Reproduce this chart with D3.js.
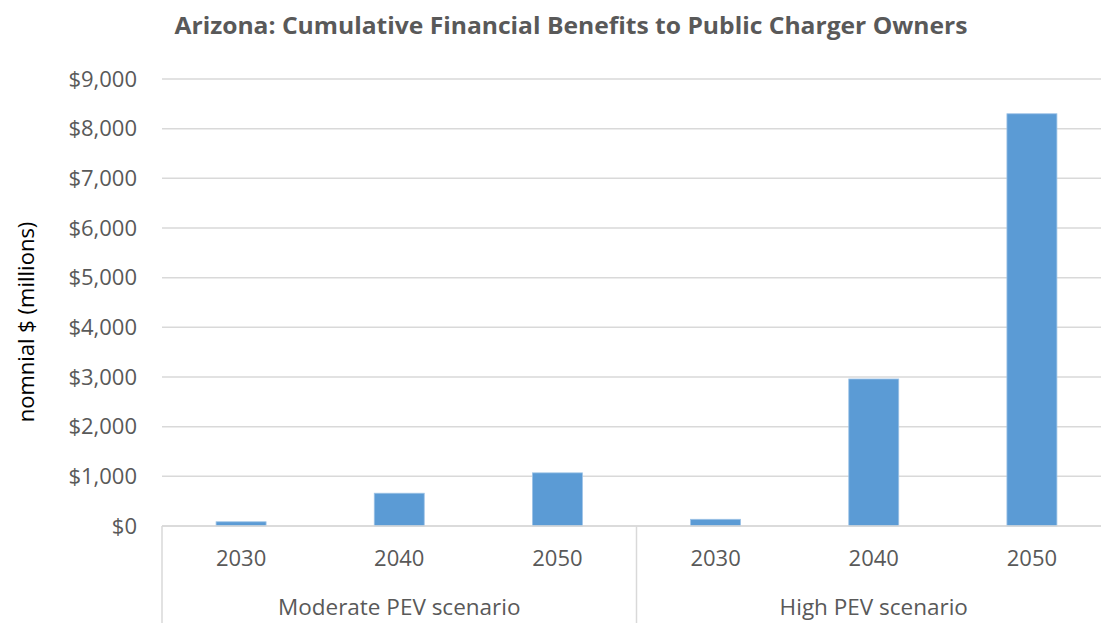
<!DOCTYPE html>
<html>
<head>
<meta charset="utf-8">
<script src="https://cdn.jsdelivr.net/npm/d3@7"></script>
<style>
  body { margin: 0; background: #fff; }
  svg { display: block; font-family: "Open Sans", sans-serif; }
</style>
</head>
<body>
<div id="chart"></div>
<script>
// data
var scenarios = ["Moderate PEV scenario", "High PEV scenario"];
var years = ["2030", "2040", "2050"];
var moderateValues = [85, 660, 1070];
var highValues = [135, 2960, 8300];
var yTicks = [0, 1000, 2000, 3000, 4000, 5000, 6000, 7000, 8000, 9000];

var rows = [];
scenarios.forEach(function(s, si) {
  var vals = si === 0 ? moderateValues : highValues;
  years.forEach(function(y, yi) {
    rows.push({ key: s + "|" + y, scenario: s, year: y, value: vals[yi] });
  });
});

var width = 1101, height = 623;
// plot area (runs past the right edge, like the reference)
var plotLeft = 162, plotRight = 1111, plotTop = 79, plotBottom = 526;

var svg = d3.select("#chart").append("svg")
  .attr("width", width)
  .attr("height", height);

var x = d3.scaleBand()
  .domain(rows.map(function(d) { return d.key; }))
  .range([plotLeft, plotRight])
  .paddingInner(0.684)
  .paddingOuter(0.342);

var y = d3.scaleLinear().domain([0, 9000]).range([plotBottom, plotTop]);

// gridlines
svg.append("g")
  .selectAll("line")
  .data(yTicks)
  .enter()
  .append("line")
  .attr("x1", plotLeft)
  .attr("x2", plotRight)
  .attr("y1", function(d) { return y(d); })
  .attr("y2", function(d) { return y(d); })
  .attr("stroke", "#d9d9d9")
  .attr("stroke-width", 1.5);

// y axis labels
var fmt = d3.format(",");
var yAxis = d3.axisLeft(y)
  .tickValues(yTicks)
  .tickSize(0)
  .tickPadding(25)
  .tickFormat(function(d) { return "$" + fmt(d); });

var yg = svg.append("g")
  .attr("transform", "translate(" + plotLeft + ",0)")
  .call(yAxis);
yg.select(".domain").remove();
yg.selectAll("text")
  .attr("fill", "#595959")
  .style("font-size", "22px")
  .style("font-family", "Open Sans");

// bars
svg.append("g")
  .selectAll("rect")
  .data(rows)
  .enter()
  .append("rect")
  .attr("x", function(d) { return x(d.key); })
  .attr("y", function(d) { return y(d.value); })
  .attr("width", x.bandwidth())
  .attr("height", function(d) { return plotBottom - y(d.value); })
  .attr("fill", "#5b9bd5")
  .attr("stroke", "#9dc3e6")
  .attr("stroke-width", 0.8);

// category axis line
svg.append("line")
  .attr("x1", plotLeft)
  .attr("x2", plotRight)
  .attr("y1", plotBottom)
  .attr("y2", plotBottom)
  .attr("stroke", "#d9d9d9")
  .attr("stroke-width", 1.5);

// year labels
var xAxis = d3.axisBottom(x)
  .tickSize(0)
  .tickPadding(24)
  .tickFormat(function(k) { return k.split("|")[1]; });

var xg = svg.append("g")
  .attr("transform", "translate(0," + plotBottom + ")")
  .call(xAxis);
xg.select(".domain").remove();
xg.selectAll("text")
  .attr("fill", "#595959")
  .style("font-size", "22px")
  .style("font-family", "Open Sans");

// group separators + scenario labels
var half = (x.step() - x.bandwidth()) / 2;
var bounds = scenarios.map(function(s) {
  var keys = rows.filter(function(d) { return d.scenario === s; }).map(function(d) { return d.key; });
  return {
    name: s,
    x0: x(keys[0]) - half,
    x1: x(keys[keys.length - 1]) + x.bandwidth() + half
  };
});

var seps = [bounds[0].x0].concat(bounds.map(function(b) { return b.x1; }));
svg.append("g")
  .selectAll("line")
  .data(seps)
  .enter()
  .append("line")
  .attr("x1", function(d) { return d; })
  .attr("x2", function(d) { return d; })
  .attr("y1", plotBottom)
  .attr("y2", height)
  .attr("stroke", "#d9d9d9")
  .attr("stroke-width", 1.5);

svg.append("g")
  .selectAll("text")
  .data(bounds)
  .enter()
  .append("text")
  .attr("x", function(d) { return (d.x0 + d.x1) / 2; })
  .attr("y", 615)
  .attr("text-anchor", "middle")
  .attr("fill", "#595959")
  .style("font-size", "22.5px")
  .text(function(d) { return d.name; });

// y axis title
svg.append("text")
  .attr("transform", "translate(34,322) rotate(-90)")
  .attr("text-anchor", "middle")
  .attr("fill", "#000")
  .style("font-size", "22px")
  .text("nomnial $ (millions)");

// chart title
svg.append("text")
  .attr("x", 571)
  .attr("y", 34)
  .attr("text-anchor", "middle")
  .attr("fill", "#595959")
  .attr("textLength", 793)
  .attr("lengthAdjust", "spacingAndGlyphs")
  .style("font-size", "24px")
  .style("font-weight", "bold")
  .text("Arizona: Cumulative Financial Benefits to Public Charger Owners");
</script>
</body>
</html>
